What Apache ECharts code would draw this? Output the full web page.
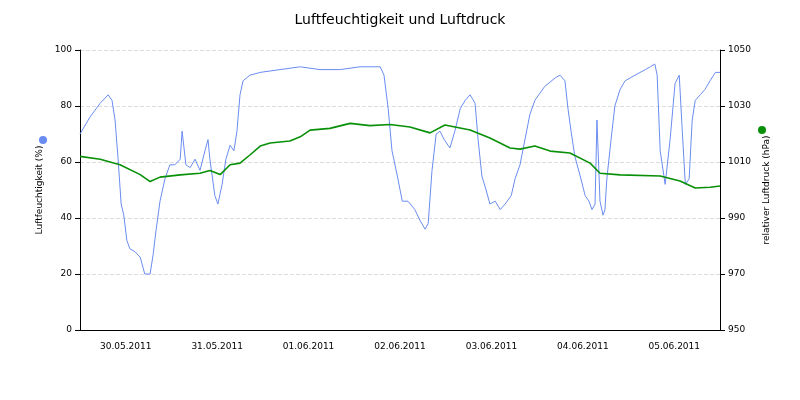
<!DOCTYPE html><html><head><meta charset="utf-8"><script src="https://cdn.jsdelivr.net/npm/echarts@6/dist/echarts.min.js"></script>
<style>html,body{margin:0;background:#fff}#c{width:800px;height:400px}</style></head><body><div id="c"></div><script>
const dayLabels=['30.05.2011','31.05.2011','01.06.2011','02.06.2011','03.06.2011','04.06.2011','05.06.2011'];
const humHours=[0,2.6,5.3,7.4,8.4,9.2,10,10.8,11.5,12.3,13.1,14.4,15.8,17,18.4,19.2,20,21,22.3,23.6,24.9,26.3,26.8,27.3,27.8,28.9,30.2,31.5,32.8,33.6,34.1,35.4,36.2,37.3,38.3,39.4,40.4,41.2,42,42.8,44.6,47.3,52.5,57.8,63,68.3,73.5,78.8,79.8,80.9,81.9,83.3,84.6,86.1,87.9,89.3,90.6,91.4,92.4,93.5,94.5,95.6,97.1,98.4,99.8,101.1,102.4,103.7,104.5,105.5,106.6,107.6,109,110.3,111.6,113.2,114.2,115.5,116.8,118.1,119.4,122,124.7,126,127.3,128.1,128.9,129.9,131.3,132.6,133.6,134.4,135.2,135.7,136.5,137.3,137.8,138.3,139.4,140.4,141.8,143.1,145.7,148.4,149.7,150.9,151.5,152.3,153.6,154.9,156.2,157.3,158.1,158.9,159.9,160.7,161.5,162.8,164.1,165.4,166.8,168];
const humValues=[70,76,81,84,82,75,61,45,41,32,29,28,26,20,20,27,36,46,54,59,59,61,71,71,59,58,61,57,64,68,61,48,45,52,61,66,64,71,84,89,91,92,93,94,93,93,94,94,91,79,64,55,46,46,43,39,36,38,57,70,71,68,65,71,79,82,84,81,68,55,50,45,46,43,45,48,54,59,68,77,82,87,90,91,89,79,71,62,55,48,46,43,45,75,46,41,43,54,68,80,86,89,91,93,94,95,91,64,52,68,88,91,71,52,54,75,82,84,86,89,92,92];
const presHours=[0,5.3,10.5,15.8,18.4,21,26.3,31.5,34.1,36.8,39.4,42,44.6,47.3,49.9,55.1,57.8,60.4,65.6,70.9,76.1,81.4,86.6,91.9,95.8,102.4,107.6,112.9,115.5,119.4,123.4,128.6,133.9,136.5,141.8,152.3,157.5,161.5,165.4,168];
const presValues=[1012,1011,1009,1005.5,1003,1004.6,1005.4,1006,1007,1005.5,1009,1009.6,1012.5,1015.7,1016.8,1017.5,1019,1021.4,1022,1023.8,1023,1023.4,1022.5,1020.4,1023.2,1021.4,1018.6,1015,1014.6,1015.7,1013.9,1013.2,1009.6,1006,1005.4,1005,1003.2,1000.7,1001,1001.4];
const pair=(a,b)=>a.map((h,i)=>[h,b[i]]);
const ch=echarts.init(document.getElementById('c'));
const f='DejaVu Sans';
ch.setOption({
 animation:false,
 title:{text:'Luftfeuchtigkeit und Luftdruck',left:'center',top:8,textStyle:{fontFamily:f,fontSize:14,fontWeight:'normal',color:'#000'}},
 grid:{left:80,right:80,top:50,bottom:70},
 xAxis:[{type:'category',data:dayLabels,boundaryGap:true,axisLine:{lineStyle:{color:'#000'}},axisTick:{lineStyle:{color:'#000'}},axisLabel:{fontFamily:f,fontSize:9,color:'#000',margin:12}},
  {type:'value',min:0,max:168,show:false}],
 yAxis:[{type:'value',min:0,max:100,interval:20,name:'Luftfeuchtigkeit (%)',nameLocation:'middle',nameGap:36,nameTextStyle:{fontFamily:f,fontSize:9,color:'#000'},axisLine:{show:true,lineStyle:{color:'#000'}},axisTick:{show:true},axisLabel:{fontFamily:f,fontSize:9,color:'#000'},splitLine:{lineStyle:{type:'dashed',color:'#ddd'}}},
  {type:'value',min:950,max:1050,interval:20,name:'relativer Luftdruck (hPa)',nameLocation:'middle',nameGap:40,nameTextStyle:{fontFamily:f,fontSize:9,color:'#000'},axisLine:{show:true,lineStyle:{color:'#000'}},axisTick:{show:true},axisLabel:{fontFamily:f,fontSize:9,color:'#000',formatter:v=>String(v)},splitLine:{show:false}}],
 series:[
  {type:'line',xAxisIndex:1,yAxisIndex:0,data:pair(humHours,humValues),showSymbol:false,lineStyle:{color:'#6a8cf0',width:1},itemStyle:{color:'#6a8cf0'}},
  {type:'line',xAxisIndex:1,yAxisIndex:1,data:pair(presHours,presValues),showSymbol:false,lineStyle:{color:'#089008',width:1.6},itemStyle:{color:'#089008'}}
 ],
 graphic:[{type:'circle',shape:{cx:43,cy:140,r:4},style:{fill:'#6a8cf0'}},{type:'circle',shape:{cx:762,cy:130,r:4},style:{fill:'#089008'}}]
});
</script></body></html>
